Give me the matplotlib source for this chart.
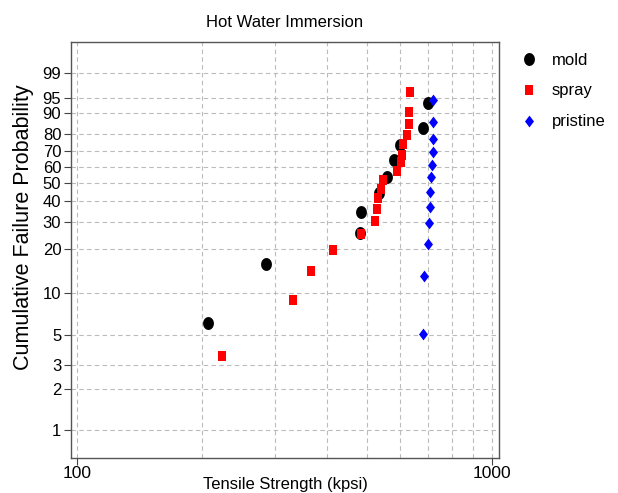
import matplotlib
matplotlib.use("Agg")
import matplotlib.pyplot as plt
from matplotlib import font_manager
import numpy as np
from matplotlib.ticker import FixedLocator, NullFormatter

# strength (kpsi) and cumulative failure probability (%)
mold_x = [207, 285, 481, 484, 535, 559, 582, 600, 682, 701]
mold_p = [6.1, 15.8, 25.5, 34.7, 44.2, 54.0, 64.5, 73.8, 83.2, 93.6]

spray_x = [224, 331, 366, 415, 484, 523, 527, 532, 539, 545,
           589, 605, 607, 611, 625, 630, 632, 635]
spray_p = [3.5, 8.9, 14.3, 19.8, 25.2, 30.6, 35.8, 41.8, 46.7, 52.0,
           57.5, 63.4, 67.6, 74.2, 79.4, 85.2, 90.5, 96.3]

pristine_x = [683, 686, 702, 706, 709, 711, 714, 716, 720, 720, 721, 722]
pristine_p = [5.1, 13.2, 21.6, 29.5, 37.1, 45.1, 53.7, 61.1, 69.7, 77.5, 86.3, 94.5]

y_ticks = [1, 2, 3, 5, 10, 20, 30, 40, 50, 60, 70, 80, 90, 95, 99]


def weibull(p):
    p = np.clip(np.asarray(p, dtype=float) / 100.0, 1e-9, 1 - 1e-12)
    return np.log(-np.log(1 - p))


def weibull_inv(w):
    return 100.0 * (1 - np.exp(-np.exp(np.asarray(w, dtype=float))))


def ellipse(aspect, n=40):
    t = np.linspace(0, 2 * np.pi, n)
    return list(zip(aspect * np.cos(t), np.sin(t)))


def rect(aspect):
    return [(-aspect, -1), (aspect, -1), (aspect, 1), (-aspect, 1), (-aspect, -1)]


def diamond(aspect):
    return [(0, 1), (aspect, 0), (0, -1), (-aspect, 0), (0, 1)]


def main():
    plt.rcParams["font.family"] = ["Liberation Sans", "DejaVu Sans"]
    names = {f.name for f in font_manager.fontManager.ttflist}
    narrow = "Liberation Sans Narrow" in names

    fig = plt.figure(figsize=(6.18, 4.93), dpi=100)
    ax = fig.add_axes([71 / 618, 1 - 458 / 493, 428 / 618, 416 / 493])

    ax.set_xscale("log")
    ax.set_yscale("function", functions=(weibull, weibull_inv))
    ax.set_xlim(96.7, 1040)
    ax.set_ylim(0.616, 99.961)

    ax.plot(mold_x, mold_p, linestyle="none", marker=ellipse(0.84),
            markersize=9.3, color="black", markeredgewidth=0, label="mold")
    ax.plot(spray_x, spray_p, linestyle="none", marker=rect(0.82),
            markersize=7, color="red", markeredgewidth=0, label="spray")
    ax.plot(pristine_x, pristine_p, linestyle="none", marker=diamond(0.76),
            markersize=8.5, color="blue", markeredgewidth=0, label="pristine")

    ax.xaxis.set_major_locator(FixedLocator([100, 1000]))
    ax.xaxis.set_minor_locator(FixedLocator([200, 300, 400, 500, 600, 700, 800, 900]))
    ax.xaxis.set_minor_formatter(NullFormatter())
    ax.set_xticklabels(["100", "1000"])
    ax.yaxis.set_major_locator(FixedLocator(y_ticks))
    ax.yaxis.set_minor_locator(FixedLocator([]))
    if narrow:
        ax.set_yticklabels([str(t) for t in y_ticks],
                           family="Liberation Sans Narrow", fontsize=13.5)
    else:
        ax.set_yticklabels([str(t) for t in y_ticks], fontsize=12)

    ax.tick_params(axis="both", which="major", direction="out", length=5,
                   width=0.8, color="#444444", pad=2)
    ax.tick_params(axis="x", which="major", labelsize=12.5, pad=1)
    ax.tick_params(axis="x", which="minor", length=0)

    grid_kw = dict(color="#bbbbbb", linestyle=(0, (4, 3)), linewidth=0.8)
    ax.grid(True, which="major", axis="both", **grid_kw)
    ax.grid(True, which="minor", axis="x", **grid_kw)

    for s in ax.spines.values():
        s.set_color("#555555")
        s.set_linewidth(1.0)

    ax.set_title("Hot Water Immersion", fontsize=12, pad=11)
    ax.set_xlabel("Tensile Strength (kpsi)", fontsize=12, labelpad=-3)
    ax.set_ylabel("Cumulative Failure Probability", fontsize=15.5)
    ax.yaxis.set_label_coords(-0.087, 0.555)

    fig.legend(loc="upper left", bbox_to_anchor=(512 / 618, 1 - 46 / 493),
               frameon=False, fontsize=12, handletextpad=0.8,
               labelspacing=0.95, borderaxespad=0, handlelength=1.2)

    fig.savefig("out.png", dpi=100)


if __name__ == "__main__":
    main()
